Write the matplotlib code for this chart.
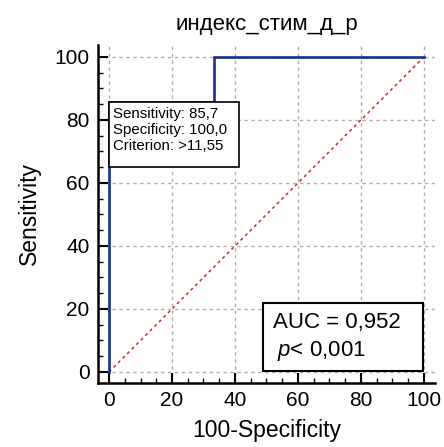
import matplotlib as mpl
mpl.use("Agg")
import matplotlib.pyplot as plt
from matplotlib.patches import Rectangle

mpl.rcParams['font.family'] = ['Liberation Sans', 'DejaVu Sans']
mpl.rcParams['mathtext.fontset'] = 'custom'
mpl.rcParams['mathtext.rm'] = 'Liberation Sans'
mpl.rcParams['mathtext.it'] = 'Liberation Sans:italic'

# ROC curve points (100-Specificity, Sensitivity)
fpr = [0, 0, 33.3, 33.3, 100]
tpr = [0, 85.7, 85.7, 100, 100]
diag = [0, 100]

titulo = "индекс_стим_д_р"
sens, spec, crit = "85,7", "100,0", ">11,55"
auc, pval = "0,952", "0,001"

fig = plt.figure(figsize=(4.44, 4.47), dpi=100)
ax = fig.add_axes([0.2207, 0.1432, 0.759, 0.7562])

ax.set_xlim(-3.5, 103.5)
ax.set_ylim(-3.5, 103.8)

ax.grid(True, color='#b0b0b0', linestyle=(0, (2.5, 2.5)), linewidth=1)
ax.set_axisbelow(True)

ax.plot(diag, diag, linestyle=(0, (2, 2.2)), color='#cc2a2a', linewidth=1.1)
ax.plot(fpr, tpr, color='#1a2f8a', linewidth=1.9, solid_joinstyle='miter')

# recuadro del punto de corte
ax.add_patch(Rectangle((0, 65.0), 41.2, 20.7, facecolor='white', edgecolor='black',
                       linewidth=1.2, zorder=5))
ax.text(1.4, 84.2, "Sensitivity: %s\nSpecificity: %s\nCriterion: %s" % (sens, spec, crit),
        fontsize=10.8, va='top', ha='left', linespacing=1.2, zorder=6)

# recuadro AUC
ax.add_patch(Rectangle((48.9, 0.3), 50.9, 21.5, facecolor='white', edgecolor='black',
                       linewidth=1.5, zorder=5))
ax.text(52.0, 15.7, "AUC = %s" % auc, fontsize=16, va='center', ha='left', zorder=6)
ax.text(53.2, 6.7, r"$\it{p}$< %s" % pval, fontsize=16, va='center', ha='left', zorder=6)

ax.set_xticks([0, 20, 40, 60, 80, 100])
ax.set_yticks([0, 20, 40, 60, 80, 100])
ax.set_xticks(range(0, 101, 5), minor=True)
ax.set_yticks(range(0, 101, 5), minor=True)
ax.tick_params(which='major', direction='in', length=7, width=1.5, labelsize=15, pad=6)
ax.tick_params(which='minor', direction='in', length=3.5, width=1)

for s in ['top', 'right']:
    ax.spines[s].set_visible(False)
for s in ['left', 'bottom']:
    ax.spines[s].set_linewidth(1.8)

ax.set_xlabel("100-Specificity", fontsize=16.5, labelpad=6)
ax.set_ylabel("Sensitivity", fontsize=16.5, labelpad=10)
ax.set_title(titulo, fontsize=16, pad=11)

plt.savefig("out.png", dpi=100)
